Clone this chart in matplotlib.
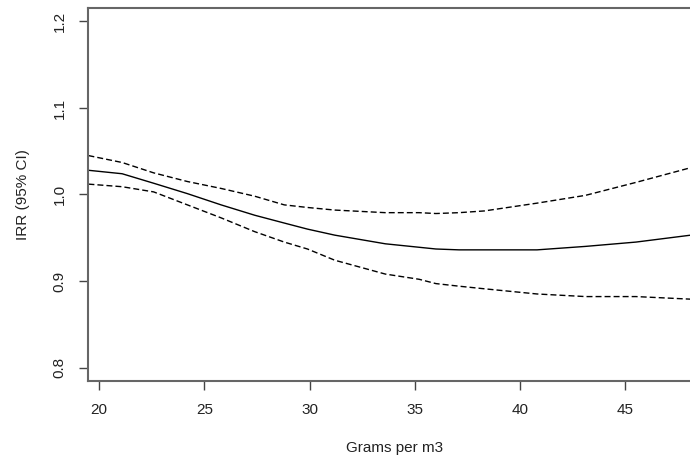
import matplotlib
matplotlib.use("Agg")
import matplotlib.pyplot as plt

# Data
grams = [19.5, 21.1, 22.6, 24.2, 25.8, 27.4, 28.8, 29.9, 31.2, 33.6, 35.2, 36.0, 37.1, 38.3, 40.8, 43.1, 45.5, 48.1]
irr = [1.028, 1.024, 1.013, 1.001, 0.988, 0.976, 0.967, 0.960, 0.953, 0.943, 0.939, 0.937, 0.936, 0.936, 0.936, 0.940, 0.945, 0.953]
upper = [1.045, 1.037, 1.025, 1.015, 1.007, 0.998, 0.988, 0.985, 0.982, 0.979, 0.979, 0.978, 0.979, 0.981, 0.990, 0.999, 1.014, 1.031]
lower = [1.012, 1.009, 1.003, 0.988, 0.973, 0.957, 0.945, 0.937, 0.924, 0.908, 0.902, 0.897, 0.894, 0.891, 0.885, 0.882, 0.882, 0.879]
xticks = [20, 25, 30, 35, 40, 45]
yticks = [0.8, 0.9, 1.0, 1.1, 1.2]
ytick_labels = ["0.8", "0.9", "1.0", "1.1", "1.2"]

plt.rcParams['font.family'] = ['Liberation Sans', 'DejaVu Sans']

W, H = 690, 462
fig = plt.figure(figsize=(W / 100, H / 100), dpi=100)
left, right, top, bottom = 88, 700, 8, 381
ax = fig.add_axes([left / W, 1 - bottom / H, (right - left) / W, (bottom - top) / H])

ax.plot(grams, irr, color='black', lw=1.0, solid_capstyle='butt')
ax.plot(grams, upper, color='black', lw=1.0, linestyle=(0, (4.3, 2.2)))
ax.plot(grams, lower, color='black', lw=1.0, linestyle=(0, (4.3, 2.2)))

ax.set_xlim(19.48, 48.54)
ax.set_ylim(0.7844, 1.2156)
ax.set_xticks(xticks)
ax.set_yticks(yticks)
ax.set_xticklabels([str(t) for t in xticks], fontsize=11, color='#222222')
ax.set_yticklabels(ytick_labels, fontsize=11, color='#222222', rotation=90, va='center')
ax.tick_params(axis='both', length=6.5, width=1.0, color='#444444', pad=9)

for s in ax.spines.values():
    s.set_color('#666666')
    s.set_linewidth(1.5)

fig.text(23 / W, 1 - 194.5 / H, 'IRR (95% CI)', rotation=90, ha='center', va='center',
         fontsize=11, color='#222222')
fig.text(395 / W, 1 - 448 / H, 'Grams per m3', ha='center', va='center',
         fontsize=11, color='#222222')

fig.savefig('out.png', dpi=100)
